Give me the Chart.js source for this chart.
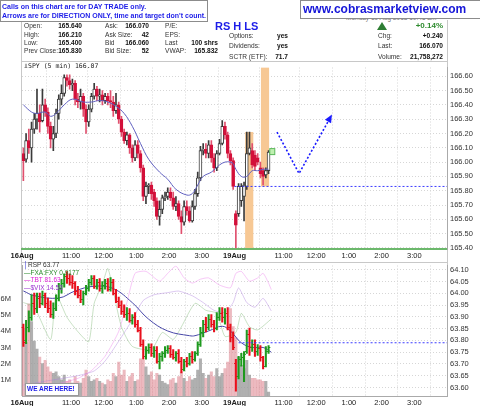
<!DOCTYPE html>
<html>
<head>
<meta charset="utf-8">
<script src="https://cdn.jsdelivr.net/npm/chart.js@4.4.0/dist/chart.umd.min.js"></script>
<style>
body{margin:0;width:480px;height:406px;background:#fff;position:relative;overflow:hidden;font-family:"Liberation Sans",Arial,sans-serif}
canvas{position:absolute;left:0}
.t{position:absolute;white-space:nowrap;font-size:6.6px;line-height:1;color:#333}
.v{position:absolute;white-space:nowrap;font-size:6.6px;line-height:1;color:#111;font-weight:bold;text-align:right}
.ln{position:absolute;background:#c8c8c8}
.box{position:absolute;background:#fff;border:1px solid #8c8c8c}
</style>
</head>
<body>
<!-- frame -->
<div class="ln" style="left:21px;top:20px;width:1px;height:376px"></div>
<div class="ln" style="left:447px;top:20px;width:1px;height:376px"></div>
<div class="ln" style="left:21px;top:61px;width:426px;height:1px"></div>
<div class="ln" style="left:21px;top:262px;width:426px;height:1px"></div>

<canvas id="c1" width="480" height="202" style="top:60px"></canvas>
<canvas id="c2" width="480" height="148" style="top:258px"></canvas>

<!-- header block -->
<div class="t" style="left:346px;top:15px;color:#777;font-size:6.5px">Monday 19 Aug 2013 10:45 am</div>
<div class="t" style="left:24px;top:23px">Open:</div><div class="v" style="right:398px;top:23px">165.640</div>
<div class="t" style="left:24px;top:31.5px">High:</div><div class="v" style="right:398px;top:31.5px">166.210</div>
<div class="t" style="left:24px;top:40px">Low:</div><div class="v" style="right:398px;top:40px">165.400</div>
<div class="t" style="left:24px;top:48px">Prev Close:</div><div class="v" style="right:398px;top:48px">165.830</div>
<div class="t" style="left:105px;top:23px">Ask:</div><div class="v" style="right:331px;top:23px">166.070</div>
<div class="t" style="left:105px;top:31.5px">Ask Size:</div><div class="v" style="right:331px;top:31.5px">42</div>
<div class="t" style="left:105px;top:40px">Bid</div><div class="v" style="right:331px;top:40px">166.060</div>
<div class="t" style="left:105px;top:48px">Bid Size:</div><div class="v" style="right:331px;top:48px">52</div>
<div class="t" style="left:165px;top:23px">P/E:</div>
<div class="t" style="left:165px;top:31.5px">EPS:</div>
<div class="t" style="left:165px;top:40px">Last</div><div class="v" style="right:262px;top:40px">100 shrs</div>
<div class="t" style="left:165px;top:48px">VWAP:</div><div class="v" style="right:262px;top:48px">165.832</div>
<div class="t" style="left:215px;top:21px;font-size:11px;font-weight:bold;color:#1c1ce8">RS H LS</div>
<div class="t" style="left:229px;top:33px">Options:</div><div class="v" style="right:192px;top:33px">yes</div>
<div class="t" style="left:229px;top:43px">Dividends:</div><div class="v" style="right:192px;top:43px">yes</div>
<div class="t" style="left:229px;top:53.5px">SCTR (ETF):</div><div class="v" style="right:192px;top:53.5px">71.7</div>
<div style="position:absolute;left:377px;top:22px;width:0;height:0;border-left:5.5px solid transparent;border-right:5.5px solid transparent;border-bottom:8px solid #2e7d32"></div>
<div class="v" style="right:37px;top:22px;font-size:8px;color:#2e8b2e">+0.14%</div>
<div class="t" style="left:378px;top:33px">Chg:</div><div class="v" style="right:37px;top:33px">+0.240</div>
<div class="t" style="left:378px;top:43px">Last:</div><div class="v" style="right:37px;top:43px">166.070</div>
<div class="t" style="left:378px;top:53.5px">Volume:</div><div class="v" style="right:37px;top:53.5px">21,758,272</div>

<div class="box" style="left:0;top:0;width:206px;height:20px"></div>
<div class="t" style="left:2px;top:2.5px;font-size:7px;font-weight:bold;color:#1c1ce8">Calls on this chart are for DAY TRADE only.</div>
<div class="t" style="left:2px;top:12px;font-size:7px;font-weight:bold;color:#1c1ce8">Arrows are for DIRECTION ONLY, time and target don't count.</div>
<div class="box" style="left:300px;top:0;width:179px;height:17px"></div>
<div class="t" style="left:303px;top:2.5px;font-size:12px;font-weight:bold;color:#1515d8">www.cobrasmarketview.com</div>

<!-- panel labels -->
<div class="t" style="left:24px;top:63px;font-family:'DejaVu Sans Mono',monospace;font-size:6.5px;color:#222">&#x2AEB;SPY (5 min) 166.07</div>
<div class="t" style="left:24px;top:262px;font-size:6.5px;color:#333"><span style="color:#2020d0">&#x2502;</span>RSP 63.77</div>
<div class="t" style="left:24px;top:269.5px;font-size:6.5px;color:#2a8a2a">&#x2014;FXA:FXY 0.9177</div>
<div class="t" style="left:24px;top:277px;font-size:6.5px;color:#e020d8">&#x2014;TBT 81.63</div>
<div class="t" style="left:24px;top:284.5px;font-size:6.5px;color:#9a30d0">&#x2014;$VIX 14.53</div>
<div class="box" style="left:25px;top:383px;width:52px;height:11px;border-color:#999"></div>
<div class="t" style="left:27px;top:385.5px;font-size:6.5px;font-weight:bold;color:#1c1ce8">WE ARE HERE!</div>

<script>
// ---- time axis (5-min slots: 16 Aug = slots 0..77, 19 Aug = slots 78..155)
const tickSlots = [-0.5, 17.5, 29.5, 41.5, 53.5, 65.5, 77.5, 95.5, 107.5, 119.5, 131.5, 143.5];
const tickText = ['16Aug', '11:00', '12:00', '1:00', '2:00', '3:00', '19Aug', '11:00', '12:00', '1:00', '2:00', '3:00'];
const dayTicks = [0, 6];

// ---- SPY 5 min candles
const spyOpen = [166.06,166.02,166.15,166.10,166.23,166.30,166.34,166.29,166.40,166.35,
  166.25,166.16,166.20,166.34,166.44,166.48,166.59,166.57,166.54,166.55,
  166.44,166.42,166.46,166.37,166.28,166.37,166.46,166.51,166.46,166.47,166.43,
  166.46,166.43,166.42,166.36,166.40,166.30,166.21,166.15,166.19,166.10,
  166.03,166.12,166.06,165.96,165.76,165.83,165.84,165.79,165.73,165.62,
  165.67,165.75,165.76,165.79,165.75,165.69,165.71,165.62,165.58,165.69,
  165.66,165.59,165.69,165.78,165.89,166.08,166.09,166.06,166.12,166.03,
  165.96,166.06,166.13,166.25,166.19,166.06,166.01,
  165.64,165.64,165.73,165.76,165.83,166.06,166.08,166.05,166.03,165.96,165.94,165.91,165.94];
const spyHigh = [166.10,166.20,166.23,166.28,166.34,166.51,166.40,166.51,166.44,166.38,
  166.28,166.25,166.37,166.47,166.54,166.61,166.61,166.61,166.58,166.57,
  166.48,166.51,166.48,166.40,166.40,166.48,166.55,166.53,166.51,166.50,166.48,
  166.48,166.50,166.46,166.48,166.42,166.32,166.23,166.21,166.20,166.12,
  166.15,166.15,166.08,165.98,165.86,165.85,165.86,165.81,165.75,165.73,
  165.77,165.79,165.82,165.82,165.79,165.76,165.73,165.66,165.73,165.73,
  165.69,165.73,165.81,165.93,166.11,166.13,166.13,166.15,166.15,166.06,
  166.08,166.16,166.29,166.28,166.21,166.08,166.03,
  165.66,165.85,165.85,165.86,166.21,166.21,166.13,166.08,166.06,166.00,165.96,165.96,166.08];
const spyLow = [165.87,166.00,166.06,166.00,166.20,166.23,166.21,166.28,166.32,166.20,
  166.10,166.08,166.17,166.30,166.40,166.46,166.53,166.51,166.50,166.40,
  166.38,166.37,166.32,166.20,166.25,166.35,166.44,166.43,166.42,166.40,166.41,
  166.40,166.38,166.32,166.34,166.27,166.18,166.13,166.12,166.06,166.00,
  166.01,166.03,165.93,165.73,165.71,165.78,165.74,165.69,165.60,165.56,
  165.64,165.73,165.74,165.73,165.67,165.66,165.60,165.50,165.56,165.63,
  165.58,165.58,165.67,165.76,165.87,166.05,166.03,166.03,166.00,165.93,
  165.94,166.05,166.12,166.16,166.03,165.98,165.81,
  165.40,165.62,165.69,165.59,165.81,166.05,165.96,165.94,165.98,165.89,165.84,165.89,165.92];
const spyClose = [166.01,166.15,166.10,166.23,166.30,166.34,166.28,166.40,166.35,166.25,
  166.16,166.20,166.34,166.44,166.48,166.59,166.57,166.54,166.55,166.44,
  166.42,166.46,166.37,166.28,166.37,166.46,166.51,166.46,166.47,166.43,166.46,
  166.43,166.42,166.36,166.40,166.30,166.21,166.15,166.19,166.10,166.03,
  166.12,166.06,165.96,165.76,165.83,165.84,165.78,165.73,165.62,165.67,
  165.75,165.76,165.79,165.75,165.69,165.71,165.62,165.58,165.69,165.66,
  165.59,165.69,165.78,165.89,166.08,166.09,166.06,166.12,166.03,165.96,
  166.06,166.13,166.25,166.19,166.06,166.01,165.83,
  165.56,165.83,165.83,165.84,166.06,166.10,165.98,165.97,166.00,165.92,165.90,165.94,166.07];

// moving average on SPY (read at a few slots)
const maSlot = [0,3,5,8,10,12,15,18,22,25,28,31,34,37,40,43,46,50,53,56,60,62,64,66,69,72,74,76,77,78,80,82,84,86,88,90];
const maVal = [166.40,166.35,166.34,166.35,166.32,166.34,166.40,166.44,166.42,166.42,166.43,166.42,166.39,166.34,166.25,166.13,166.02,165.93,165.88,165.81,165.77,165.78,165.84,165.90,165.93,165.98,166.00,166.00,165.99,165.95,165.90,165.90,165.94,165.94,165.95,165.95];

const priceTicks = [165.4,165.5,165.6,165.7,165.8,165.9,166.0,166.1,166.2,166.3,166.4,166.5,166.6];
const prevClose = 165.83;
const arrowSlot = [93.1, 101.2, 112.9];
const arrowVal = [166.21, 165.92, 166.32];
const highlights = [
  {from: 81.4, to: 84.4, top: 166.21, bottom: 165.40},
  {from: 87.2, to: 90.2, top: 166.66, bottom: 165.83}
];

// ---- lower panel: volume (millions), RSP bars, overlays
const volume = [4.2,3.3,5.7,4.6,3.4,2.9,2.4,2.0,2.2,1.8,1.5,1.4,1.5,1.2,1.0,1.3,0.9,1.0,0.8,1.2,
  0.9,0.8,1.1,1.6,1.2,0.9,1.0,1.1,0.9,0.8,0.7,1.0,0.9,1.4,1.2,2.1,1.3,1.6,0.9,1.2,1.4,
  0.9,1.0,2.3,2.2,1.8,1.3,1.5,1.0,1.4,1.3,0.9,0.8,0.7,1.0,1.1,0.8,1.2,1.5,1.1,0.9,
  1.2,1.0,1.1,1.6,2.3,1.4,1.1,1.3,1.5,1.2,1.7,1.2,1.4,1.7,2.1,5.4,4.3,
  3.6,2.4,1.9,1.7,2.2,1.3,1.1,1.1,1.0,1.0,0.9,0.9,0.25];
const volTicks = [1,2,3,4,5,6];

const rspOpen = [63.856,63.802,63.856,63.898,63.960,63.939,63.980,63.960,63.993,63.960,
  63.939,63.910,63.939,63.980,64.021,64.042,64.075,64.063,64.050,64.042,
  64.009,63.993,63.976,64.001,64.021,64.050,64.063,64.030,64.046,64.021,64.034,
  64.042,64.017,64.050,64.001,63.968,63.951,63.926,63.910,63.918,63.885,
  63.898,63.869,63.844,63.786,63.732,63.761,63.774,63.745,63.761,63.712,
  63.732,63.745,63.761,63.769,63.741,63.728,63.745,63.712,63.679,63.712,
  63.703,63.732,63.720,63.745,63.786,63.836,63.869,63.856,63.893,63.869,
  63.852,63.898,63.918,63.898,63.918,63.856,63.815,
  63.703,63.650,63.720,63.728,63.753,63.827,63.774,63.786,63.753,63.769,63.728,63.691,63.753];
const rspHigh = [63.869,63.885,63.926,63.993,64.001,64.001,64.001,64.009,64.001,63.980,
  63.968,63.960,63.993,64.042,64.059,64.083,64.092,64.083,64.075,64.050,
  64.030,64.013,64.009,64.034,64.059,64.075,64.075,64.059,64.063,64.050,64.059,
  64.063,64.067,64.059,64.017,63.984,63.968,63.951,63.939,63.935,63.910,
  63.918,63.885,63.856,63.802,63.774,63.786,63.786,63.774,63.774,63.745,
  63.753,63.774,63.778,63.778,63.761,63.753,63.761,63.728,63.720,63.728,
  63.745,63.753,63.753,63.794,63.856,63.885,63.898,63.910,63.910,63.885,
  63.918,63.939,63.939,63.935,63.939,63.869,63.836,
  63.720,63.732,63.745,63.753,63.844,63.852,63.802,63.802,63.782,63.778,63.732,63.774,63.778];
const rspLow = [63.774,63.786,63.836,63.885,63.910,63.918,63.939,63.951,63.939,63.918,
  63.898,63.893,63.926,63.968,64.001,64.026,64.042,64.034,64.021,63.993,
  63.980,63.960,63.951,63.993,64.009,64.034,64.021,64.017,64.009,64.001,64.017,
  64.009,64.009,63.993,63.960,63.939,63.910,63.898,63.885,63.877,63.869,
  63.856,63.836,63.774,63.720,63.720,63.745,63.732,63.728,63.703,63.679,
  63.712,63.728,63.745,63.728,63.720,63.712,63.703,63.662,63.670,63.687,
  63.695,63.703,63.712,63.736,63.774,63.815,63.836,63.844,63.856,63.836,
  63.844,63.885,63.877,63.869,63.844,63.794,63.761,
  63.584,63.637,63.691,63.625,63.745,63.736,63.753,63.732,63.736,63.712,63.679,63.687,63.745];
const rspClose = [63.794,63.856,63.898,63.960,63.939,63.980,63.960,63.993,63.960,63.939,
  63.910,63.939,63.980,64.021,64.042,64.075,64.063,64.050,64.042,64.009,
  63.993,63.976,64.001,64.021,64.050,64.063,64.030,64.046,64.021,64.034,64.042,
  64.017,64.050,64.001,63.968,63.951,63.926,63.910,63.918,63.885,63.898,
  63.869,63.844,63.786,63.732,63.761,63.774,63.745,63.761,63.712,63.732,
  63.745,63.761,63.769,63.741,63.728,63.745,63.712,63.679,63.712,63.703,
  63.732,63.720,63.745,63.786,63.836,63.869,63.856,63.893,63.869,63.852,
  63.898,63.918,63.898,63.918,63.856,63.815,63.774,
  63.650,63.720,63.728,63.741,63.827,63.774,63.786,63.753,63.769,63.728,63.691,63.753,63.770];
const rspTicks = [63.60,63.65,63.70,63.75,63.80,63.85,63.90,63.95,64.00,64.05,64.10];
const rspPrevClose = 63.79;

const rmaSlot = [0,4,13,19,26,33,40,46,53,61,63,68,73,76,80,84,88,91];
const rmaVal = [64.01,63.99,63.98,64.01,64.03,64.02,63.96,63.89,63.84,63.82,63.82,63.84,63.86,63.84,63.79,63.77,63.77,63.75];

const tbtSlot = [0,10,20,25,30,35,38,41,45,50,53,56,59,62,65,68,72,76,78,80,83,86,88,90,91];
const tbtVal = [80.09,80.16,80.27,80.39,80.61,80.99,81.43,81.88,81.91,81.76,81.88,81.99,81.81,81.73,81.79,81.81,81.70,81.66,81.88,81.91,81.76,81.81,81.88,81.73,81.63];
const vixSlot = [0,10,20,26,30,35,40,44,48,53,57,62,66,70,74,77,79,82,85,88,91];
const vixVal = [13.11,13.20,13.29,13.38,13.57,13.95,14.36,14.73,14.84,14.88,14.91,14.82,14.69,14.54,14.50,14.69,14.97,14.69,14.60,14.77,14.53];
const fxSlot = [0,4,10,12,16,20,24,26,29,31,33,36,40,47,51,55,58,63,67,71,74,78,80,83,86,91];
const fxVal = [0.9215,0.9204,0.9130,0.9233,0.9181,0.9148,0.9125,0.9213,0.9257,0.9293,0.9242,0.9159,0.9114,0.9107,0.9146,0.9130,0.9159,0.9213,0.9197,0.9190,0.9137,0.9146,0.9190,0.9159,0.9152,0.9177];

// ---- styling
const FONT = '"Liberation Sans", Arial, sans-serif';
const UP = '#3a3a3a', DOWN = '#d3103a';
const GRID = '#d6d6d6';
const pts = (xs, ys) => xs.map((x, i) => ({x: x, y: ys[i]}));
const isUp = i => spyClose[i] >= spyOpen[i];

function timeScale(labelH) {
  return {
    type: 'linear', min: -0.5, max: 155.5, offset: false,
    afterBuildTicks: s => { s.ticks = tickSlots.map(v => ({value: v})); },
    afterFit: s => { s.height = labelH; },
    ticks: {
      autoSkip: false, maxRotation: 0, padding: 2, color: '#222',
      font: c => ({family: FONT, size: 7.5, weight: dayTicks.includes(c.index) ? 'bold' : 'normal'}),
      callback: (v, i) => tickText[i]
    },
    grid: {color: GRID, drawTicks: false}
  };
}
function valueScale(pos, min, max, ticks, width, fmt) {
  return {
    position: pos, min: min, max: max,
    afterBuildTicks: s => { s.ticks = ticks.map(v => ({value: v})); },
    afterFit: s => { s.width = width; },
    ticks: {padding: 3, color: '#333', font: {family: FONT, size: 7.5}, callback: fmt},
    grid: {color: GRID, drawTicks: false},
    border: {color: '#aaa', dash: [1, 2]}
  };
}

Chart.defaults.animation = false;
Chart.defaults.plugins.legend.display = false;
Chart.defaults.plugins.tooltip.enabled = false;

// ---- price panel
const priceMarks = {
  id: 'priceMarks',
  beforeDatasetsDraw(chart) {
    const {ctx, scales: {x, y}} = chart;
    ctx.save();
    ctx.fillStyle = '#f7c894';
    highlights.forEach(h => {
      const x0 = x.getPixelForValue(h.from), x1 = x.getPixelForValue(h.to);
      const y0 = y.getPixelForValue(h.top), y1 = y.getPixelForValue(h.bottom);
      ctx.fillRect(x0, y0, x1 - x0, y1 - y0);
    });
    ctx.restore();
  },
  afterDatasetsDraw(chart) {
    const {ctx, scales: {x, y}} = chart;
    ctx.save();
    // arrow head
    const n = arrowSlot.length;
    const tx = x.getPixelForValue(arrowSlot[n - 1]), ty = y.getPixelForValue(arrowVal[n - 1]);
    const px = x.getPixelForValue(arrowSlot[n - 2]), py = y.getPixelForValue(arrowVal[n - 2]);
    const a = Math.atan2(ty - py, tx - px);
    ctx.fillStyle = '#1a1aff';
    ctx.beginPath();
    ctx.moveTo(tx + 2 * Math.cos(a), ty + 2 * Math.sin(a));
    ctx.lineTo(tx - 6 * Math.cos(a) + 3.5 * Math.sin(a), ty - 6 * Math.sin(a) - 3.5 * Math.cos(a));
    ctx.lineTo(tx - 6 * Math.cos(a) - 3.5 * Math.sin(a), ty - 6 * Math.sin(a) + 3.5 * Math.cos(a));
    ctx.closePath();
    ctx.fill();
    // last price tag
    const last = spyClose.length - 1;
    const lx = x.getPixelForValue(last + 1), ly = y.getPixelForValue(spyClose[last]);
    ctx.fillStyle = '#bff0b0';
    ctx.strokeStyle = '#5cb85c';
    ctx.fillRect(lx - 1.5, ly - 3.5, 5, 6);
    ctx.strokeRect(lx - 1.5, ly - 3.5, 5, 6);
    ctx.restore();
  }
};

new Chart(document.getElementById('c1'), {
  type: 'bar',
  data: {
    datasets: [
      {type: 'line', data: pts(arrowSlot, arrowVal), borderColor: '#1a1aff', borderWidth: 1.6, borderDash: [2, 2], pointRadius: 0, order: 0},
      {type: 'line', data: [{x: 77.5, y: prevClose}, {x: 155.5, y: prevClose}], borderColor: '#3b3bff', borderWidth: 1, borderDash: [2, 2], pointRadius: 0, order: 1},
      {type: 'line', data: pts(maSlot, maVal), borderColor: '#6060c0', borderWidth: 1, pointRadius: 0, tension: 0.4, order: 1},
      {data: spyOpen.map((o, i) => ({x: i, y: [o, spyClose[i]]})), grouped: false, barThickness: 3, borderWidth: 1, borderSkipped: false,
        backgroundColor: spyOpen.map((o, i) => isUp(i) ? '#fff' : DOWN),
        borderColor: spyOpen.map((o, i) => isUp(i) ? UP : DOWN), order: 2},
      {data: spyLow.map((l, i) => ({x: i, y: [l, spyHigh[i]]})), grouped: false, barThickness: 1,
        backgroundColor: spyLow.map((l, i) => isUp(i) ? UP : '#e0506e'), order: 3}
    ]
  },
  options: {
    responsive: false,
    layout: {padding: {left: 22, top: 2, right: 0, bottom: 0}},
    scales: {
      x: Object.assign(timeScale(13), {border: {color: '#6cb86c', width: 2, dash: [1, 2]}}),
      y: valueScale('right', 165.393, 166.661, priceTicks, 33, v => v.toFixed(2))
    }
  },
  plugins: [priceMarks]
});

// ---- volume / RSP panel
const rspColor = i => {
  const c = rspClose[i], o = rspOpen[i], p = i ? rspClose[i - 1] : o;
  if (c > o && c >= p) return '#1f9a1f';
  if (c < o && c <= p) return '#e8101c';
  return '#2222dd';
};
const ohlcTicks = {
  id: 'ohlcTicks',
  afterDatasetsDraw(chart) {
    const {ctx, scales: {x, yr}} = chart;
    ctx.save();
    ctx.lineWidth = 1;
    rspOpen.forEach((o, i) => {
      const cx = x.getPixelForValue(i);
      const yo = Math.round(yr.getPixelForValue(o)) + 0.5;
      const yc = Math.round(yr.getPixelForValue(rspClose[i])) + 0.5;
      ctx.strokeStyle = rspColor(i);
      ctx.beginPath();
      ctx.moveTo(cx - 1.8, yo); ctx.lineTo(cx, yo);
      ctx.moveTo(cx, yc); ctx.lineTo(cx + 1.8, yc);
      ctx.stroke();
    });
    ctx.restore();
  }
};

new Chart(document.getElementById('c2'), {
  type: 'bar',
  data: {
    datasets: [
      {type: 'line', yAxisID: 'yr', data: [{x: 79, y: rspPrevClose}, {x: 155.5, y: rspPrevClose}], borderColor: '#3b3bff', borderWidth: 1, borderDash: [2, 2], pointRadius: 0, order: 1},
      {yAxisID: 'yr', data: rspLow.map((l, i) => ({x: i, y: [l, rspHigh[i]]})), grouped: false, barThickness: 1.4,
        backgroundColor: rspLow.map((l, i) => rspColor(i)), order: 2},
      {type: 'line', yAxisID: 'yr', data: pts(rmaSlot, rmaVal), borderColor: '#4848a8', borderWidth: 1, pointRadius: 0, tension: 0.4, order: 3},
      {type: 'line', yAxisID: 'yfx', data: pts(fxSlot, fxVal), borderColor: 'rgba(120,180,110,0.4)', borderWidth: 1, pointRadius: 0, tension: 0.2, order: 6},
      {type: 'line', yAxisID: 'ytbt', data: pts(tbtSlot, tbtVal), borderColor: 'rgba(235,120,235,0.4)', borderWidth: 1, pointRadius: 0, tension: 0.2, order: 6},
      {type: 'line', yAxisID: 'yvix', data: pts(vixSlot, vixVal), borderColor: 'rgba(170,120,220,0.4)', borderWidth: 1, pointRadius: 0, tension: 0.2, order: 6},
      {yAxisID: 'yv', data: volume.map((v, i) => ({x: i, y: v})), grouped: false, barThickness: 2.4,
        backgroundColor: volume.map((v, i) => isUp(i) ? 'rgba(150,150,150,0.75)' : 'rgba(220,130,140,0.55)'), order: 10}
    ]
  },
  options: {
    responsive: false,
    layout: {padding: {left: 0, top: 4, right: 0, bottom: 0}},
    scales: {
      x: Object.assign(timeScale(10), {border: {color: '#aaa', dash: [1, 2]}}),
      yv: Object.assign(valueScale('left', 0, 8.07, volTicks, 22, v => v + 'M'), {grid: {display: false}}),
      yr: valueScale('right', 63.564, 64.118, rspTicks, 33, v => v.toFixed(2)),
      ytbt: {display: false, min: 80.0, max: 82.0},
      yvix: {display: false, min: 12.9, max: 15.4},
      yfx: {display: false, min: 0.900, max: 0.930}
    }
  },
  plugins: [ohlcTicks]
});
</script>
</body>
</html>
